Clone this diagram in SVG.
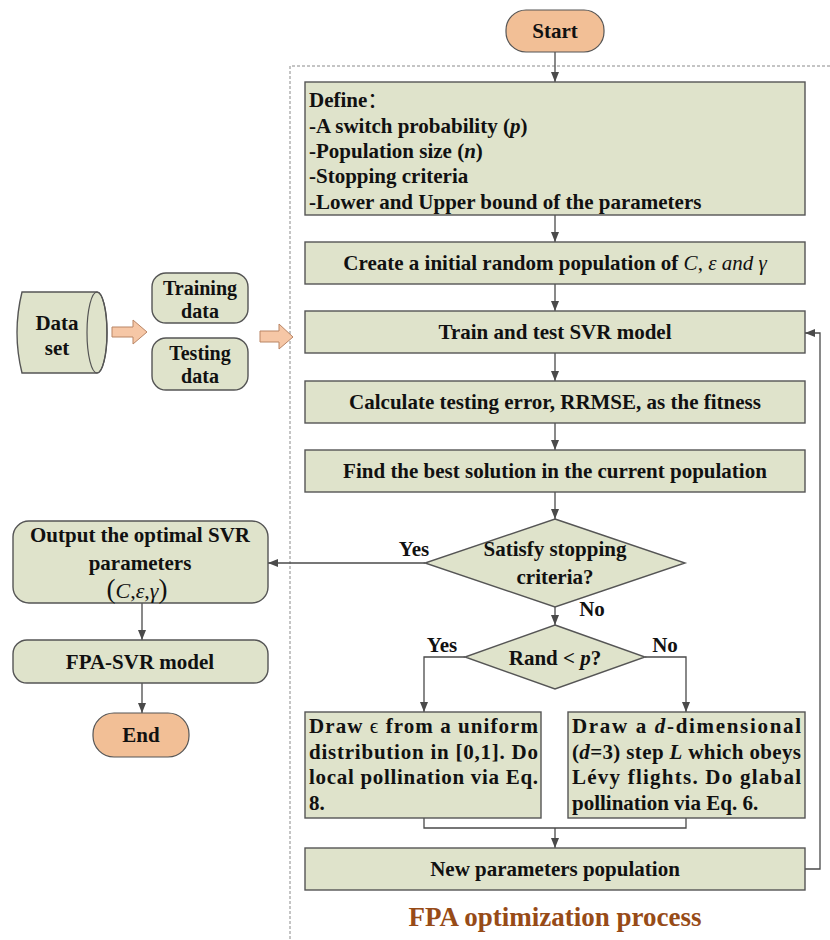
<svg xmlns="http://www.w3.org/2000/svg" width="830" height="940" viewBox="0 0 830 940">
<defs>
<marker id="ah" viewBox="0 0 10 10" refX="10" refY="5" markerWidth="10" markerHeight="10" markerUnits="userSpaceOnUse" orient="auto"><path d="M0,1 L10,5 L0,9 z" fill="#4a4a4a"/></marker>
<style>
.box{fill:#dfe3cb;stroke:#555;stroke-width:1.4}
.term{fill:#f2bf96;stroke:#555;stroke-width:1.2}
.blk{fill:#f6c7a6;stroke:#b98565;stroke-width:1}
.t{font-family:"Liberation Serif","Times New Roman",serif;font-weight:bold;font-size:21px;fill:#111}
.s{font-size:20px}
.c{text-anchor:middle}
.it{font-style:italic}
.nb{font-weight:normal}
.ln{fill:none;stroke:#4a4a4a;stroke-width:1.3}
.arr{fill:none;stroke:#4a4a4a;stroke-width:1.3;marker-end:url(#ah)}
</style>
</defs>
<rect width="830" height="940" fill="#fff"/>
<path d="M830,66 H290 V940" fill="none" stroke="#8a8a8a" stroke-width="1" stroke-dasharray="3,2"/>

<g id="connectors">
<path class="arr" d="M555,52 V82"/>
<path class="arr" d="M555,215 V242"/>
<path class="arr" d="M555,284 V311"/>
<path class="arr" d="M555,353 V381"/>
<path class="arr" d="M555,423 V450"/>
<path class="arr" d="M555,492 V519"/>
<path class="arr" d="M555,607 V625"/>
<path class="arr" d="M425,563 H268"/>
<path class="arr" d="M465,657 H424 V712"/>
<path class="arr" d="M645,657 H686 V712"/>
<path class="ln" d="M424,818 V828 H686 V818"/>
<path class="arr" d="M555,828 V848"/>
<path class="arr" d="M805,869 H820 V333 H805"/>
<path class="arr" d="M142,603 V640"/>
<path class="arr" d="M142,683 V713"/>
<polygon class="blk" points="112,327 133,327 133,320 147,332 133,344 133,337 112,337"/>
<polygon class="blk" points="260,331 279,331 279,324 293,337 279,349 279,342 260,342"/>
</g>

<g id="start">
<rect class="term" x="506" y="10" width="98" height="42" rx="20"/>
<text class="t c" x="555" y="38">Start</text>
</g>

<g id="define">
<rect class="box" x="305" y="82" width="500" height="133"/>
<text class="t" x="309" y="107">Define<tspan font-family="'Noto Sans CJK SC',sans-serif" font-weight="normal">：</tspan></text>
<text class="t" x="309" y="133">-A switch probability (<tspan class="it">p</tspan>)</text>
<text class="t" x="309" y="158">-Population size (<tspan class="it">n</tspan>)</text>
<text class="t" x="309" y="183">-Stopping criteria</text>
<text class="t" x="309" y="209">-Lower and Upper bound of the parameters</text>
</g>

<g id="create">
<rect class="box" x="305" y="242" width="500" height="42"/>
<text class="t c" x="555" y="270">Create a initial random population of <tspan class="it nb">C</tspan><tspan class="nb">, </tspan><tspan class="it nb">ε and γ</tspan></text>
</g>

<g id="train">
<rect class="box" x="305" y="311" width="500" height="42"/>
<text class="t c" x="555" y="339">Train and test SVR model</text>
</g>

<g id="calc">
<rect class="box" x="305" y="381" width="500" height="42"/>
<text class="t c" x="555" y="409">Calculate testing error, RRMSE, as the fitness</text>
</g>

<g id="find">
<rect class="box" x="305" y="450" width="500" height="42"/>
<text class="t c" x="555" y="478">Find the best solution in the current population</text>
</g>

<g id="stop">
<polygon class="box" points="555,519 685,563 555,607 425,563"/>
<text class="t c" x="555" y="556">Satisfy stopping</text>
<text class="t c" x="555" y="584">criteria?</text>
<text class="t c" x="414" y="556">Yes</text>
<text class="t c" x="592" y="616">No</text>
</g>

<g id="rand">
<polygon class="box" points="555,625 645,657 555,689 465,657"/>
<text class="t c" x="555" y="665">Rand &lt; <tspan class="it">p</tspan>?</text>
<text class="t c" x="442" y="652">Yes</text>
<text class="t c" x="665" y="652">No</text>
</g>

<g id="local">
<rect class="box" x="305" y="712" width="236" height="106"/>
<text class="t" x="309" y="733" textLength="229" lengthAdjust="spacing">Draw <tspan class="nb">ϵ</tspan> from a uniform</text>
<text class="t" x="309" y="759" textLength="229" lengthAdjust="spacing">distribution in [0,1]. Do</text>
<text class="t" x="309" y="784" textLength="229" lengthAdjust="spacing">local pollination via Eq.</text>
<text class="t" x="309" y="810">8.</text>
</g>

<g id="global">
<rect class="box" x="568" y="712" width="237" height="106"/>
<text class="t" x="572" y="733" textLength="229" lengthAdjust="spacing">Draw a <tspan class="it">d</tspan>-dimensional</text>
<text class="t" x="572" y="759" textLength="229" lengthAdjust="spacing">(<tspan class="it">d</tspan>=3) step <tspan class="it">L</tspan> which obeys</text>
<text class="t" x="572" y="784" textLength="229" lengthAdjust="spacing">Lévy flights. Do glabal</text>
<text class="t" x="572" y="810">pollination via Eq. 6.</text>
</g>

<g id="newpop">
<rect class="box" x="305" y="848" width="500" height="42"/>
<text class="t c" x="555" y="876">New parameters population</text>
</g>

<g id="title">
<text class="t c" x="555" y="926" style="font-size:27px;fill:#974b17">FPA optimization process</text>
</g>

<g id="dataset">
<path class="box" d="M22,292 H97 A10,40.5 0 0 1 97,373 H22 Q12,332.5 22,292 Z"/>
<ellipse cx="97" cy="332.5" rx="10" ry="40.5" fill="none" stroke="#555" stroke-width="1.2"/>
<text class="t c" x="57" y="330">Data</text>
<text class="t c" x="57" y="355">set</text>
</g>

<g id="training">
<rect class="box" x="152" y="273" width="96" height="50" rx="14"/>
<text class="t c s" x="200" y="295">Training</text>
<text class="t c s" x="200" y="318">data</text>
</g>

<g id="testing">
<rect class="box" x="152" y="338" width="96" height="52" rx="14"/>
<text class="t c s" x="200" y="360">Testing</text>
<text class="t c s" x="200" y="383">data</text>
</g>

<g id="output">
<rect class="box" x="13" y="521" width="255" height="82" rx="16"/>
<text class="t c" x="140" y="542">Output the optimal SVR</text>
<text class="t c" x="140" y="570">parameters</text>
<text class="t c nb" x="137" y="598" style="font-weight:normal;font-size:22px"><tspan font-size="27">(</tspan><tspan class="it">C</tspan>,<tspan class="it">ε</tspan>,<tspan class="it">γ</tspan><tspan font-size="27">)</tspan></text>
</g>

<g id="fpasvr">
<rect class="box" x="13" y="640" width="255" height="43" rx="14"/>
<text class="t c" x="140" y="669">FPA-SVR model</text>
</g>

<g id="end">
<rect class="term" x="93" y="713" width="96" height="44" rx="21"/>
<text class="t c" x="141" y="742">End</text>
</g>
</svg>
